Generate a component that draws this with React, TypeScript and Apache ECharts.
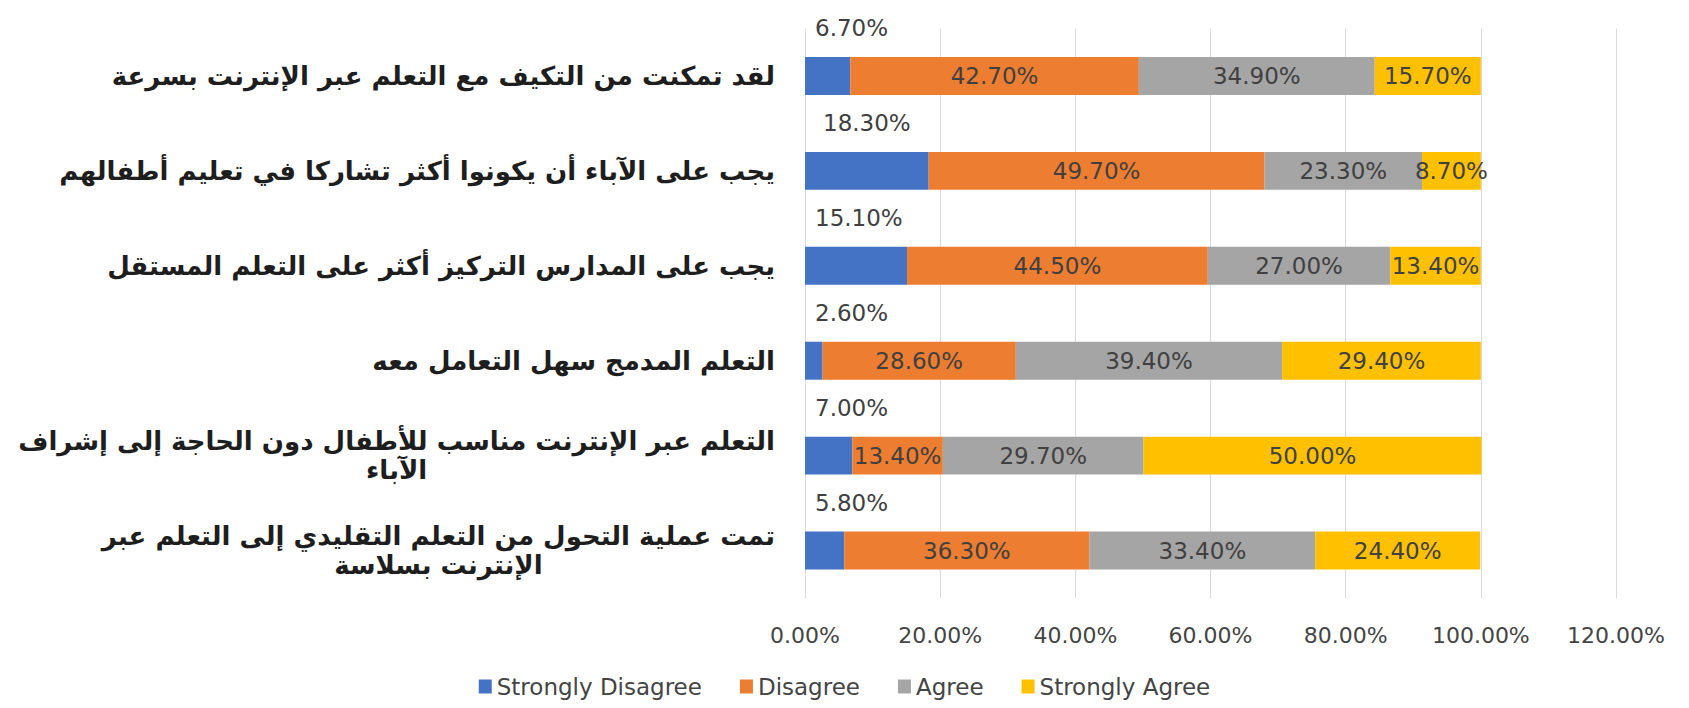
import React, { useEffect, useRef } from "react";
import * as echarts from "echarts";

const categories = [
  "لقد تمكنت من التكيف مع التعلم عبر الإنترنت بسرعة",
  "يجب على الآباء أن يكونوا أكثر تشاركا في تعليم أطفالهم",
  "يجب على المدارس التركيز أكثر على التعلم المستقل",
  "التعلم المدمج سهل التعامل معه",
  "التعلم عبر الإنترنت مناسب للأطفال دون الحاجة إلى إشراف\nالآباء",
  "تمت عملية التحول من التعلم التقليدي إلى التعلم عبر\nالإنترنت بسلاسة",
];

const seriesNames = ["Strongly Disagree", "Disagree", "Agree", "Strongly Agree"];
const stronglyDisagree = [6.7, 18.3, 15.1, 2.6, 7.0, 5.8];
const disagree = [42.7, 49.7, 44.5, 28.6, 13.4, 36.3];
const agree = [34.9, 23.3, 27.0, 39.4, 29.7, 33.4];
const stronglyAgree = [15.7, 8.7, 13.4, 29.4, 50.0, 24.4];
const xTicks = { min: 0, max: 120, interval: 20 };

const colors = ["#4472C4", "#ED7D31", "#A5A5A5", "#FFC000"];
const pct = (v: number) => `${Number(v).toFixed(2)}%`;

export default function App() {
  const ref = useRef<HTMLDivElement>(null);
  useEffect(() => {
    if (!ref.current) return;
    const chart = echarts.init(ref.current, null, { renderer: "svg" });
    const values = [stronglyDisagree, disagree, agree, stronglyAgree];
    const series = values.map((data, i) => ({
      name: seriesNames[i],
      type: "bar",
      stack: "total",
      barCategoryGap: "60%",
      data,
      itemStyle: { color: colors[i] },
      label: {
        show: true,
        position: i === 0 ? "top" : "inside",
        formatter: (p: any) => pct(p.value),
        color: "#404040",
        fontFamily: "DejaVu Sans",
        fontSize: 23,
      },
      ...(i === 0
        ? {
            labelLayout: (p: any) => {
              const w = p.labelRect.width;
              const barCenter = p.rect.x + p.rect.width / 2;
              const cx = Math.max(barCenter, p.rect.x + 10 + w / 2);
              return { x: cx, y: p.rect.y - 29, align: "center", verticalAlign: "middle" };
            },
          }
        : {}),
    }));

    chart.setOption({
      animation: false,
      backgroundColor: "#ffffff",
      color: colors,
      grid: {
        left: 805,
        right: 73,
        top: 28.5,
        bottom: 110,
        containLabel: false,
        outerBoundsMode: "none",
      },
      xAxis: {
        type: "value",
        min: xTicks.min,
        max: xTicks.max,
        interval: xTicks.interval,
        axisLine: { show: false },
        axisTick: { show: false },
        splitLine: { show: true, lineStyle: { color: "#d9d9d9", width: 1 } },
        axisLabel: {
          formatter: (v: number) => pct(v),
          color: "#444444",
          fontFamily: "DejaVu Sans",
          fontSize: 22,
          margin: 26,
        },
      },
      yAxis: {
        type: "category",
        inverse: true,
        data: categories,
        axisLine: { show: false },
        axisTick: { show: false },
        axisLabel: {
          margin: 30,
          align: "right",
          formatter: (v: string) =>
            v
              .split("\n")
              .map((l) => `{c|${l}}`)
              .join("\n"),
          rich: {
            c: {
              align: "center",
              fontFamily: "DejaVu Sans",
              fontWeight: "bold",
              fontSize: 26,
              lineHeight: 29,
              color: "#1e1e1e",
            },
          },
        },
      },
      legend: {
        data: seriesNames,
        left: "center",
        top: 670,
        icon: "rect",
        itemWidth: 13,
        itemHeight: 14,
        itemGap: 38,
        textStyle: { color: "#444444", fontFamily: "DejaVu Sans", fontSize: 23 },
      },
      series,
    });
    return () => chart.dispose();
  }, []);
  return (
    <div
      ref={ref}
      style={{ position: "fixed", left: 0, top: 0, width: 1689, height: 708 }}
    />
  );
}
